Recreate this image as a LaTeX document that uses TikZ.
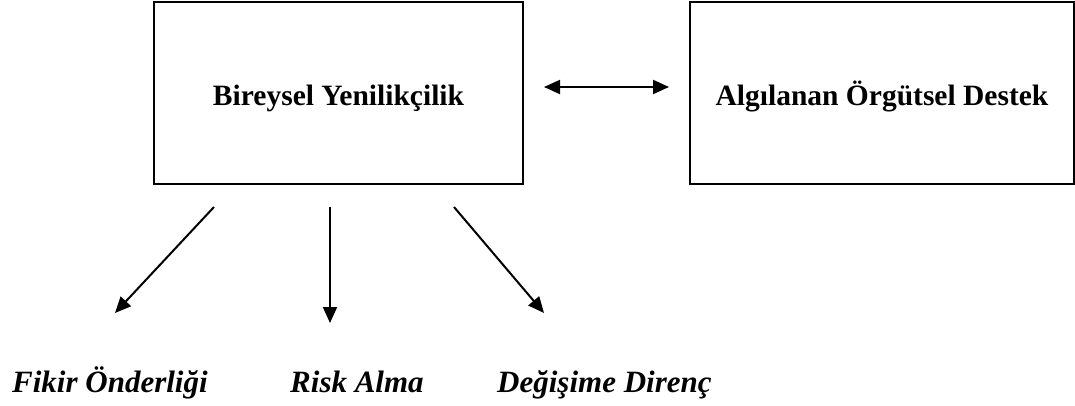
\documentclass[tikz,border=0pt]{standalone}
\usepackage{fontspec}
\setmainfont{Liberation Serif}
\usetikzlibrary{arrows.meta, positioning, calc}

\tikzset{
  kutu/.style={draw, line width=2pt, minimum height=182pt, text height=26pt, text depth=0pt,
    font=\fontsize{29.5}{33}\selectfont\bfseries},
  boyut/.style={font=\fontsize{31}{35}\selectfont\bfseries\itshape, inner sep=0pt},
  ok/.style={line width=2pt, -{Triangle[length=16pt,width=14pt]}},
  cift/.style={line width=2pt, {Triangle[length=16pt,width=14pt]}-{Triangle[length=16pt,width=14pt]}},
}

\begin{document}
\begin{tikzpicture}[x=1pt, y=1pt]
    \useasboundingbox (0,0) rectangle (1075,405);

    % Kutular
    \node[kutu, minimum width=369pt] (bireysel) at (338.5,312) {Bireysel Yenilikçilik};
    \node[kutu, minimum width=384pt] (destek) at (882,312) {Algılanan Örgütsel Destek};

    % Karsilikli iliski
    \draw[cift, shorten <=20pt, shorten >=20pt] ([yshift=6pt]bireysel.east) -- ([yshift=6pt]destek.west);

    % Alt boyutlar
    \node[boyut, anchor=base west] (fikir) at (12,13) {Fikir Önderliği};
    \node[boyut, anchor=base west] (risk) at (290,13) {Risk Alma};
    \node[boyut, anchor=base west] (direnc) at (497,13) {Değişime Direnç};

    \coordinate (u1) at (214,198);
    \coordinate (u2) at (330,198);
    \coordinate (u3) at (454,198);
    \coordinate (a1) at (115,92);
    \coordinate (a2) at (330,82);
    \coordinate (a3) at (544,92);

    \draw[ok] (u1) -- (a1);
    \draw[ok] (u2) -- (a2);
    \draw[ok] (u3) -- (a3);
\end{tikzpicture}
\end{document}
